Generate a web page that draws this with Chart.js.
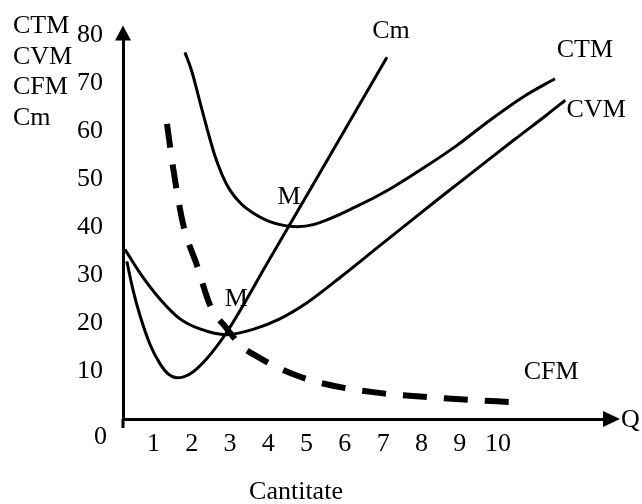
<!DOCTYPE html>
<html>
<head>
<meta charset="utf-8">
<script src="https://cdn.jsdelivr.net/npm/chart.js@4.4.0/dist/chart.umd.min.js"></script>
<style>
  html, body { margin: 0; padding: 0; background: #fff; }
  #wrap { width: 642px; height: 504px; }
</style>
</head>
<body>
<div id="wrap"><canvas id="myChart"></canvas></div>
<script>
// quantities (Q) and costs
const cmQ     = [0.3, 0.46, 0.64, 0.91, 1.17, 1.38, 1.61, 1.95, 2.4, 2.92, 4.0, 5.3, 7.1];
const cmCost  = [32.9, 27.0, 21.7, 15.5, 11.5, 9.4, 8.6, 9.4, 12.7, 18.2, 32.9, 50.7, 75.5];

const ctmQ    = [1.82, 2.0, 2.2, 2.4, 2.6, 2.8, 3.0, 3.3, 3.6, 4.0, 4.4, 4.75, 5.2, 6.32, 7.18, 8.04, 8.93, 9.8, 10.66, 11.49];
const ctmCost = [76.5, 72.5, 66.5, 60.5, 55.0, 50.8, 47.7, 44.8, 43.0, 41.3, 40.4, 40.1, 40.6, 44.4, 48.0, 52.3, 57.1, 62.4, 67.2, 71.0];

const cvmQ    = [0.25, 0.64, 1.17, 1.69, 2.21, 2.9, 3.6, 4.3, 5.0, 5.95, 6.84, 7.7, 8.6, 9.5, 10.4, 11.3, 11.76];
const cvmCost = [35.4, 30.5, 25.0, 20.9, 18.8, 17.6, 18.7, 20.9, 24.2, 30.0, 35.7, 41.2, 46.9, 52.5, 58.1, 63.6, 66.5];

const cfmQ    = [1.35, 1.51, 1.77, 2.14, 2.48, 2.92, 3.26, 3.78, 4.64, 5.43, 6.84, 7.97, 9.01, 10.45];
const cfmCost = [61.6, 52.4, 40.7, 31.9, 23.7, 18.8, 15.5, 12.7, 9.4, 7.4, 5.5, 4.7, 4.1, 3.5];

// the two points marked M
const mQ    = [4.57, 2.95];
const mCost = [40.1, 18.0];

const xTicks = [1, 2, 3, 4, 5, 6, 7, 8, 9, 10];
const yTicks = [10, 20, 30, 40, 50, 60, 70, 80];
const yTitle = ['CTM', 'CVM', 'CFM', 'Cm'];

const serif = '"Liberation Serif", "Times New Roman", serif';

function pts(qs, vs) {
  return qs.map((q, i) => ({ x: q, y: vs[i] }));
}

function curve(label, qs, vs, extra) {
  return Object.assign({
    label: label,
    data: pts(qs, vs),
    borderColor: '#000',
    borderWidth: 3,
    pointRadius: 0,
    fill: false,
    cubicInterpolationMode: 'monotone'
  }, extra || {});
}

// where each curve name sits, relative to the end of its curve
const nameOffset = { 'Cm': [4, -26], 'CTM': [30, -29], 'CVM': [31, 10], 'CFM': [36, -30] };
const mOffset = [[-1, -30], [8, -34]];

const extras = {
  id: 'extras',
  afterDraw(chart) {
    const { ctx, chartArea: a, scales: { x, y } } = chart;
    ctx.save();
    ctx.fillStyle = '#000';
    ctx.strokeStyle = '#000';
    ctx.lineWidth = 3;

    // y axis sticks out a bit under the origin
    ctx.beginPath();
    ctx.moveTo(a.left, a.bottom);
    ctx.lineTo(a.left, a.bottom + 9);
    ctx.stroke();

    // arrow heads
    ctx.beginPath();
    ctx.moveTo(a.left, a.top - 10);
    ctx.lineTo(a.left - 8, a.top + 5);
    ctx.lineTo(a.left + 8, a.top + 5);
    ctx.closePath();
    ctx.fill();

    ctx.beginPath();
    ctx.moveTo(a.right + 15, a.bottom);
    ctx.lineTo(a.right - 2, a.bottom - 8);
    ctx.lineTo(a.right - 2, a.bottom + 8);
    ctx.closePath();
    ctx.fill();

    ctx.font = '26px ' + serif;
    ctx.textBaseline = 'middle';

    // stacked y title
    ctx.textAlign = 'left';
    yTitle.forEach((t, i) => ctx.fillText(t, 13, a.top - 9 + i * 30.5));

    ctx.fillText('Q', a.right + 16, a.bottom + 1);

    ctx.textAlign = 'right';
    ctx.fillText('0', a.left - 16, a.bottom + 18);

    ctx.textAlign = 'center';
    ctx.fillText('Cantitate', a.left + 173, a.bottom + 73);

    // curve names at the curve ends
    chart.data.datasets.forEach((ds, i) => {
      const els = chart.getDatasetMeta(i).data;
      const last = els[els.length - 1];
      const off = nameOffset[ds.label];
      ctx.fillText(ds.label, last.x + off[0], last.y + off[1]);
    });

    mQ.forEach((q, i) => {
      ctx.fillText('M', x.getPixelForValue(q) + mOffset[i][0], y.getPixelForValue(mCost[i]) + mOffset[i][1]);
    });

    ctx.restore();
  }
};

document.addEventListener('DOMContentLoaded', function() {
  const ctx = document.getElementById('myChart');

  new Chart(ctx, {
    type: 'line',
    data: {
      datasets: [
        curve('Cm', cmQ, cmCost),
        curve('CTM', ctmQ, ctmCost),
        curve('CVM', cvmQ, cvmCost),
        curve('CFM', cfmQ, cfmCost, { borderWidth: 6, borderDash: [24, 17], borderCapStyle: 'butt' })
      ]
    },
    options: {
      responsive: true,
      maintainAspectRatio: false,
      animation: false,
      layout: { padding: { left: 0, top: 28, right: 37, bottom: 0 } },
      plugins: {
        legend: { display: false },
        tooltip: { enabled: false }
      },
      scales: {
        x: {
          type: 'linear',
          min: 0.2,
          max: 12.8,
          afterBuildTicks: s => { s.ticks = xTicks.map(v => ({ value: v })); },
          afterFit: s => { s.height = 85; },
          grid: { display: false, drawTicks: false },
          border: { display: true, color: '#000', width: 3 },
          ticks: {
            color: '#000',
            font: { family: serif, size: 26 },
            padding: 10,
            maxRotation: 0,
            autoSkip: false
          }
        },
        y: {
          type: 'linear',
          min: 0,
          max: 80,
          afterBuildTicks: s => { s.ticks = yTicks.map(v => ({ value: v })); },
          afterFit: s => { s.width = 123; },
          grid: { display: false, drawTicks: false },
          border: { display: true, color: '#000', width: 3 },
          ticks: {
            color: '#000',
            font: { family: serif, size: 26 },
            padding: 20
          }
        }
      }
    },
    plugins: [extras]
  });
});
</script>
</body>
</html>
